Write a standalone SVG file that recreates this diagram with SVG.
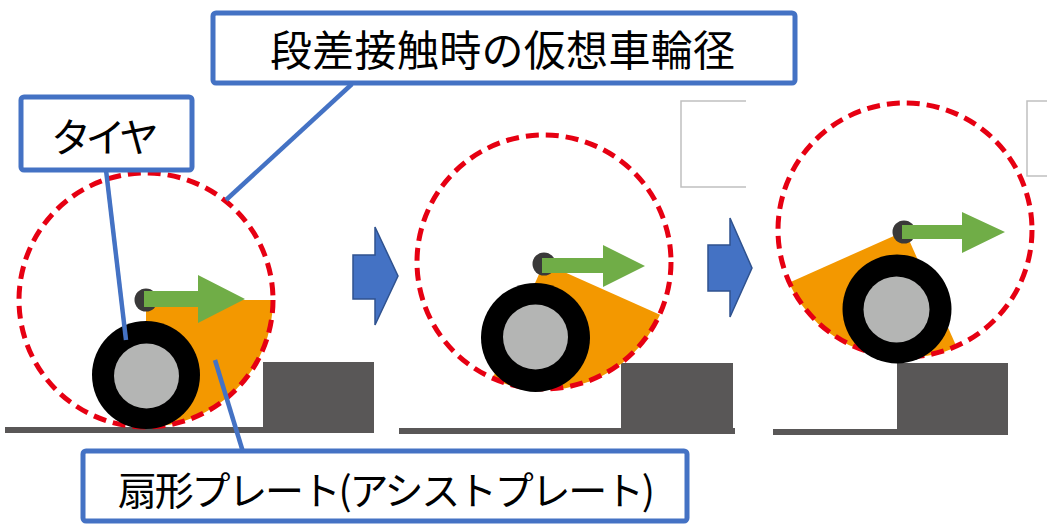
<svg xmlns="http://www.w3.org/2000/svg" width="1047" height="526" viewBox="0 0 1047 526">
  <style>
    .virtual { fill: none; stroke: #e60012; stroke-width: 5; stroke-dasharray: 13 7; }
    .plate { fill: #f39800; }
    .tire { fill: #000000; }
    .hub { fill: #b4b5b4; }
    .pivot { fill: #3a3939; }
    .push { fill: #70ad47; }
    .ground { fill: #595757; }
    .step-arrow { fill: #4472c4; stroke: #2f528f; stroke-width: 1.5; stroke-linejoin: miter; }
    .frame { fill: none; stroke: #c0c0c0; stroke-width: 1.5; }
    .leader { stroke: #4472c4; stroke-width: 4.5; fill: none; }
    .label-box { fill: #ffffff; stroke: #4472c4; stroke-width: 5; }
    .label-text { font-family: "Noto Sans CJK JP", "Noto Sans", sans-serif; fill: #000000; }
  </style>

  <rect width="1047" height="526" fill="#ffffff"/>

  <!-- empty frames at the top right -->
  <g id="frame-a">
    <path class="frame" d="M746,101 H681 V187 H746"/>
  </g>
  <g id="frame-b">
    <path class="frame" d="M1047,101 H1027 V176 H1047"/>
  </g>

  <!-- stage 1: wheel approaching the step -->
  <g id="stage-1">
    <rect class="ground" x="263" y="362" width="111" height="71"/>
    <rect class="ground" x="5" y="427" width="369" height="6"/>
    <path class="plate" d="M146,300 L273,300 A127,127 0 0 1 146,427 Z"/>
    <circle class="virtual" cx="146" cy="300" r="127"/>
    <circle class="tire" cx="146" cy="375" r="54"/>
    <circle class="hub" cx="146.5" cy="376" r="32.5"/>
    <circle class="pivot" cx="146" cy="300" r="11.5"/>
    <polygon class="push" points="144,291 198,291 198,275 245,299 198,323 198,307 144,307"/>
  </g>

  <!-- stage 2: plate touching the step edge -->
  <g id="stage-2">
    <rect class="ground" x="621" y="363" width="112" height="70"/>
    <rect class="ground" x="399" y="428" width="336" height="6"/>
    <path class="plate" d="M544,263 L660,314.7 A127,127 0 0 1 492.3,379 Z"/>
    <circle class="virtual" cx="544" cy="262" r="127"/>
    <circle class="tire" cx="535.5" cy="337.5" r="54.5"/>
    <circle class="hub" cx="535.5" cy="337" r="32.5"/>
    <circle class="pivot" cx="544" cy="264" r="11.5"/>
    <polygon class="push" points="542,258 603,258 603,245 645,266 603,287 603,273 542,273"/>
  </g>

  <!-- stage 3: wheel on top of the step -->
  <g id="stage-3">
    <rect class="ground" x="897" y="363" width="111" height="70"/>
    <rect class="ground" x="773" y="429" width="235" height="6"/>
    <path class="plate" d="M905,231 L956.7,347 A127,127 0 0 1 789,282.7 Z"/>
    <circle class="virtual" cx="905" cy="230" r="127"/>
    <circle class="tire" cx="897" cy="309" r="54.5"/>
    <circle class="hub" cx="896.5" cy="309.5" r="33"/>
    <circle class="pivot" cx="904" cy="232" r="11.5"/>
    <polygon class="push" points="902,225 962,225 962,212 1005,232 962,253 962,239 902,239"/>
  </g>

  <!-- progression arrows -->
  <g id="arrow-1">
    <polygon class="step-arrow" points="353,255 375,255 375,227 398,276 375,325 375,299 353,299"/>
  </g>
  <g id="arrow-2">
    <polygon class="step-arrow" points="708,245 730,245 730,218 752,268 730,317 730,291 708,291"/>
  </g>

  <!-- leader lines -->
  <g id="connectors">
    <line class="leader" x1="352" y1="84" x2="226" y2="200"/>
    <line class="leader" x1="106" y1="170" x2="126" y2="340"/>
    <line class="leader" x1="243" y1="452" x2="215" y2="360"/>
  </g>

  <!-- callouts -->
  <g id="label-virtual-diameter">
    <rect class="label-box" x="213" y="13" width="582" height="70" rx="3"/>
    <text class="label-text" x="270" y="66" font-size="42" textLength="465" lengthAdjust="spacing">段差接触時の仮想車輪径</text>
  </g>
  <g id="label-tire">
    <rect class="label-box" x="21" y="97" width="171" height="73" rx="3"/>
    <text class="label-text" x="51" y="152" font-size="40" textLength="108" lengthAdjust="spacing">タイヤ</text>
  </g>
  <g id="label-plate">
    <rect class="label-box" x="83" y="451" width="604" height="70" rx="3"/>
    <text class="label-text" x="118" y="505" font-size="39" textLength="537" lengthAdjust="spacing">扇形プレート(アシストプレート)</text>
  </g>
</svg>
